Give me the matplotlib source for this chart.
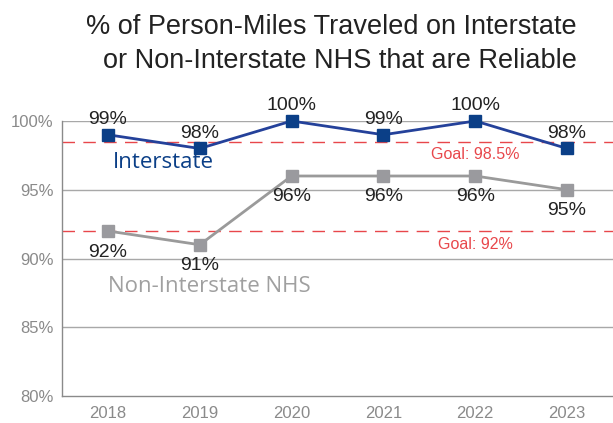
import matplotlib.pyplot as plt

years = ['2018', '2019', '2020', '2021', '2022', '2023']
interstate = [99, 98, 100, 99, 100, 98]
non_interstate = [92, 91, 96, 96, 96, 95]
goal_interstate = 98.5
goal_non_interstate = 92
yticks = [80, 85, 90, 95, 100]
title_lines = ['% of Person-Miles Traveled on Interstate',
               'or Non-Interstate NHS that are Reliable']

plt.rcParams['font.family'] = ['Liberation Sans', 'DejaVu Sans']

fig = plt.figure(figsize=(6.13, 4.23), dpi=100)
ax = fig.add_axes([62 / 613, 1 - 396 / 423, 551 / 613, 275 / 423])

x = list(range(len(years)))
grid_col = '#a8a8a8'
for t in yticks[1:]:
    ax.axhline(t, color=grid_col, lw=1.0, zorder=1)

red = '#e8474b'
ax.axhline(goal_interstate, color=red, lw=1.0, dashes=(9, 6), zorder=2)
ax.axhline(goal_non_interstate, color=red, lw=1.0, dashes=(9, 6), zorder=2)
ax.text(4, goal_interstate - 0.4, 'Goal: 98.5%', color=red, fontsize=11.5,
        ha='center', va='top')
ax.text(4, goal_non_interstate - 0.4, 'Goal: 92%', color=red, fontsize=11.5,
        ha='center', va='top')

ax.plot(x, interstate, color='#24419a', lw=2, marker='s', ms=8,
        mfc='#0b3f87', mec='#0b3f87', zorder=4, clip_on=False)
ax.plot(x, non_interstate, color='#9a9a9a', lw=2, marker='s', ms=8,
        mfc='#9a9a9e', mec='#9a9a9e', zorder=3, clip_on=False)

for i, v in enumerate(interstate):
    ax.annotate('%d%%' % v, (i, v), xytext=(0, 5), textcoords='offset points',
                ha='center', va='bottom', fontsize=14, color='#222222')
for i, v in enumerate(non_interstate):
    ax.annotate('%d%%' % v, (i, v), xytext=(0, -9), textcoords='offset points',
                ha='center', va='top', fontsize=14, color='#222222')

ax.text(0.6, 96.95, 'Interstate', color='#0b3f87', fontsize=16,
        family=['Open Sans', 'DejaVu Sans'], ha='center', va='center')
ax.text(1.11, 87.95, 'Non-Interstate NHS', color='#a0a0a0', fontsize=16,
        family=['Open Sans', 'DejaVu Sans'], ha='center', va='center')

ax.set_xlim(-0.5, 5.5)
ax.set_ylim(80, 100)
ax.set_xticks(x)
ax.set_xticklabels(years)
ax.set_yticks(yticks)
ax.set_yticklabels(['%d%%' % t for t in yticks])
ax.tick_params(length=0, colors='#8a8a8a', labelsize=12, pad=6)
ax.tick_params(axis='x', pad=7)
for s in ['top', 'right']:
    ax.spines[s].set_visible(False)
for s in ['left', 'bottom']:
    ax.spines[s].set_color('#8a8a8a')
    ax.spines[s].set_linewidth(1.0)

fig.text(577 / 613, 1 - 34 / 423, title_lines[0], ha='right', va='baseline',
         fontsize=19.5, color='#222222')
fig.text(577 / 613, 1 - 68 / 423, title_lines[1], ha='right', va='baseline',
         fontsize=19.5, color='#222222')

fig.savefig('out.png', dpi=100)
